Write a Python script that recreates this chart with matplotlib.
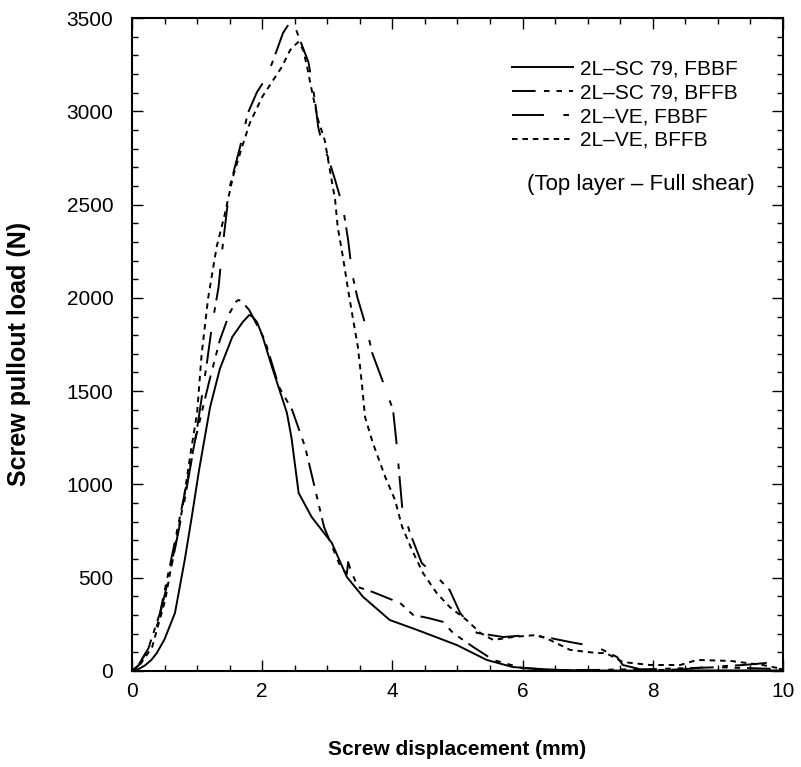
import matplotlib
matplotlib.use('Agg')
import matplotlib.pyplot as plt
from matplotlib.ticker import MultipleLocator

plt.rcParams['font.family'] = ['Liberation Sans', 'DejaVu Sans']
plt.rcParams['lines.scale_dashes'] = False

# 2L-SC 79, FBBF (solid)
sc_fbbf_x = [0, 0.1, 0.2, 0.3, 0.38, 0.5, 0.66, 0.81, 0.92, 1.03, 1.2, 1.35, 1.54, 1.7, 1.80, 1.85,
             1.92, 2.0, 2.15, 2.38, 2.45, 2.50, 2.56, 2.76, 3.07, 3.3, 3.55, 3.96, 4.38, 4.99, 5.45,
             5.85, 6.3, 6.6, 7.0, 7.5, 8.0, 8.5, 9.0, 9.5, 10]
sc_fbbf_y = [0, 10, 30, 60, 96, 170, 311, 595, 830, 1077, 1415, 1620, 1790, 1870, 1908, 1900,
             1870, 1800, 1630, 1383, 1250, 1115, 954, 825, 686, 504, 397, 273, 220, 139, 59,
             21, 10, 5, 3, 2, 2, 3, 3, 3, 3]

# 2L-SC 79, BFFB
sc_bffb_x = [0, 0.1, 0.25, 0.43, 0.61, 0.82, 0.97, 1.18, 1.35, 1.5, 1.6, 1.64, 1.7, 1.8, 2.04, 2.26,
             2.46, 2.66, 2.95, 3.2, 3.3, 3.32, 3.36, 3.47, 3.70, 4.12, 4.32, 4.55, 4.78, 4.93, 5.24,
             5.55, 6.0, 6.5, 7.0, 7.5, 8.0, 8.5, 9.0, 9.5, 10]
sc_bffb_y = [0, 30, 120, 311, 611, 970, 1238, 1544, 1774, 1919, 1980, 1989, 1975, 1935, 1774, 1522,
             1399, 1200, 772, 560, 520, 584, 540, 450, 423, 364, 300, 284, 263, 204, 129,
             59, 15, 5, 5, 8, 10, 15, 20, 15, 10]

# 2L-VE, FBBF
ve_fbbf_x = [0, 0.1, 0.25, 0.4, 0.6, 0.8, 1.0, 1.15, 1.23, 1.33, 1.38, 1.5, 1.66, 1.78, 1.92, 2.07,
             2.17, 2.32, 2.46, 2.58, 2.71, 2.81, 2.86, 2.92, 3.01, 3.12, 3.24, 3.32, 3.38, 3.46,
             3.61, 3.69, 3.89, 4.01, 4.07, 4.10, 4.15, 4.27, 4.45, 4.73, 4.88, 5.04, 5.30, 5.70,
             6.11, 6.42, 6.73, 7.14, 7.45, 7.54, 7.8, 8.2, 8.5, 8.83, 9.39, 9.75, 9.95, 10]
ve_fbbf_y = [0, 30, 120, 260, 550, 900, 1300, 1650, 1855, 2058, 2240, 2594, 2809, 2991, 3103, 3184,
             3275, 3420, 3495, 3382, 3264, 3061, 2916, 2830, 2755, 2632, 2487, 2310, 2133, 2005,
             1828, 1704, 1517, 1399, 1200, 1077, 879, 740, 579, 488, 434, 311, 204, 182,
             193, 177, 155, 129, 75, 32, 10, 5, 10, 21, 32, 43, 21, 15]

# 2L-VE, BFFB
ve_bffb_x = [0, 0.1, 0.31, 0.51, 0.64, 0.77, 0.90, 1.0, 1.07, 1.17, 1.3, 1.43, 1.55, 1.69, 1.81, 2.0,
             2.17, 2.30, 2.43, 2.55, 2.63, 2.69, 2.77, 2.86, 2.96, 3.04, 3.12, 3.16, 3.24, 3.32,
             3.39, 3.47, 3.53, 3.58, 3.70, 3.89, 4.04, 4.15, 4.30, 4.47, 4.68, 4.88, 5.14, 5.35,
             5.55, 5.85, 6.22, 6.42, 6.73, 7.14, 7.28, 7.54, 7.96, 8.42, 8.68, 9.19, 9.69, 10]
ve_bffb_y = [0, 21, 129, 380, 632, 863, 1168, 1383, 1700, 2000, 2273, 2455, 2648, 2809, 2937, 3077,
             3168, 3237, 3329, 3371, 3329, 3237, 3098, 2953, 2846, 2685, 2525, 2380, 2219, 2042,
             1897, 1737, 1544, 1361, 1222, 1040, 917, 772, 649, 525, 418, 343, 273, 204,
             166, 182, 193, 166, 113, 96, 96, 48, 32, 32, 59, 54, 32, 10]

labels = ['2L\u2013SC 79, FBBF', '2L\u2013SC 79, BFFB', '2L\u2013VE, FBBF', '2L\u2013VE, BFFB']

fig = plt.figure(figsize=(8.01, 7.67), dpi=100)
ax = fig.add_axes([0.1648, 0.1252, 0.8127, 0.8513])

lw = 1.4
ax.plot(sc_fbbf_x, sc_fbbf_y, color='black', lw=lw, linestyle='-', label=labels[0])
ax.plot(sc_bffb_x, sc_bffb_y, color='black', lw=lw, linestyle=(0, (17, 6, 4, 5, 4, 5)), label=labels[1])
ax.plot(ve_fbbf_x, ve_fbbf_y, color='black', lw=lw, linestyle=(0, (23, 14, 4, 5)), label=labels[2])
ax.plot(ve_bffb_x, ve_bffb_y, color='black', lw=lw, linestyle=(0, (4, 3.5)), label=labels[3])

ax.set_xlim(0, 10)
ax.set_ylim(0, 3500)
ax.xaxis.set_major_locator(MultipleLocator(2))
ax.xaxis.set_minor_locator(MultipleLocator(0.5))
ax.yaxis.set_major_locator(MultipleLocator(500))
ax.yaxis.set_minor_locator(MultipleLocator(100))
ax.tick_params(which='both', direction='in', top=True, right=True, width=1, labelsize=15)
ax.tick_params(which='major', length=8)
ax.tick_params(which='minor', length=4)
ax.tick_params(axis='x', which='major', pad=8)
ax.tick_params(axis='y', which='major', pad=13.5)
for s in ax.spines.values():
    s.set_linewidth(1.5)

ax.set_xlabel('Screw displacement (mm)', fontsize=15, fontweight='bold', labelpad=28)
ax.set_ylabel('Screw pullout load (N)', fontsize=18, fontweight='bold')
ax.yaxis.set_label_coords(-0.155, 0.4855)

leg = ax.legend(loc='upper left', bbox_to_anchor=(0.584, 0.9365), frameon=False, fontsize=15,
                handlelength=2.93, handletextpad=0.34, labelspacing=0.23, borderpad=0,
                borderaxespad=0)
ax.text(0.957, 0.745, '(Top layer \u2013 Full shear)', transform=ax.transAxes, fontsize=16,
        ha='right', va='center')

fig.savefig('out.png', dpi=100)
